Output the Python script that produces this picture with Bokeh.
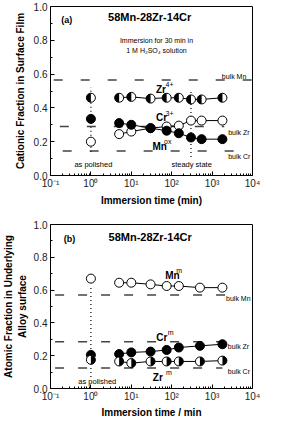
import math
from bokeh.plotting import figure
from bokeh.layouts import column
from bokeh.models import FixedTicker, PrintfTickFormatter, CustomJSTickFormatter
from bokeh.core.properties import value
from bokeh.embed import file_html
from bokeh.resources import INLINE

FONT = "Liberation Sans"

# ---------------- data: panel (a) surface film ----------------
time_a = [5, 10, 30, 75, 150, 300, 550, 1800]
zr4_a = [0.46, 0.465, 0.455, 0.46, 0.46, 0.45, 0.45, 0.46]
cr3_a = [0.245, 0.26, 0.28, 0.29, 0.295, 0.325, 0.325, 0.325]
mnox_a = [0.31, 0.30, 0.28, 0.265, 0.25, 0.225, 0.215, 0.215]
polished_t = [1]
polished_zr4_a = [0.46]
polished_mnox_a = [0.335]
polished_cr3_a = [0.20]
bulk_a = {"Mn": 0.565, "Zr": 0.29, "Cr": 0.145}

# ---------------- data: panel (b) underlying alloy ----------------
time_b = [5, 10, 30, 75, 150, 500, 1800]
mn_b = [0.645, 0.645, 0.635, 0.625, 0.625, 0.615, 0.615]
cr_b = [0.21, 0.22, 0.225, 0.235, 0.25, 0.26, 0.27]
zr_b = [0.165, 0.155, 0.165, 0.165, 0.165, 0.165, 0.17]
polished_mn_b = [0.67]
polished_mn_b_err = [0.025]
polished_cr_b = [0.205]
polished_zr_b = [0.175]
bulk_b = {"Mn": 0.57, "Zr": 0.285, "Cr": 0.125}

xticks = [0.1, 1, 10, 100, 1000, 10000]
yticks = [0.0, 0.2, 0.4, 0.6, 0.8, 1.0]

SUP_JS = """
const sup = {"-": "\\u207b", "0": "\\u2070", "1": "\\u00b9", "2": "\\u00b2",
             "3": "\\u00b3", "4": "\\u2074", "5": "\\u2075"};
const e = Math.round(Math.log10(tick)).toString();
return "10" + e.split("").map(c => sup[c]).join("");
"""


def base_fig(width, height, bl, br, bt, bb):
    p = figure(width=width, height=height, x_axis_type="log",
               x_range=(0.1, 10000), y_range=(0, 1),
               output_backend="svg", toolbar_location=None,
               min_border_left=bl, min_border_right=br,
               min_border_top=bt, min_border_bottom=bb)
    p.grid.visible = False
    p.outline_line_color = "black"
    p.outline_line_width = 1
    p.background_fill_color = "white"
    p.border_fill_color = "white"
    minors = [m * d for d in xticks[:-1] for m in range(2, 10)]
    p.xaxis.ticker = FixedTicker(ticks=xticks, minor_ticks=minors)
    p.xaxis.formatter = CustomJSTickFormatter(code=SUP_JS)
    p.yaxis.ticker = FixedTicker(ticks=yticks, minor_ticks=[0.1, 0.3, 0.5, 0.7, 0.9])
    p.yaxis.formatter = PrintfTickFormatter(format="%.1f")
    for ax in (p.xaxis[0], p.yaxis[0]):
        ax.major_tick_in = 4
        ax.major_tick_out = 0
        ax.minor_tick_in = 2
        ax.minor_tick_out = 0
        ax.axis_line_color = "black"
        ax.major_tick_line_color = "black"
        ax.minor_tick_line_color = "black"
        ax.major_label_text_font = FONT
        ax.major_label_text_font_size = "10px"
        ax.major_label_text_color = "#222222"
        ax.axis_label_text_font = FONT
        ax.axis_label_text_font_style = "bold"
        ax.axis_label_text_font_size = "10px"
        ax.axis_label_text_color = "black"
    p.xaxis.major_label_standoff = 2
    p.xaxis.axis_label_standoff = 3
    p.yaxis.major_label_standoff = 3
    p.yaxis.axis_label_standoff = 5
    return p


def txt(p, x, y, s, size, bold=False, align="left"):
    p.text(x=[x], y=[y], text=[s], text_font=value(FONT),
           text_font_size=size, text_font_style="bold" if bold else "normal",
           text_align=align, text_baseline="middle", text_color="black")


def half(p, xs, ys, left_black=True):
    p.scatter(xs, ys, size=9, marker="circle", fill_color="white",
              line_color="black", line_width=1)
    if left_black:
        sa, ea = math.pi / 2, 3 * math.pi / 2
    else:
        sa, ea = -math.pi / 2, math.pi / 2
    p.wedge(x=xs, y=ys, radius=4.5, radius_units="screen",
            start_angle=sa, end_angle=ea, fill_color="black", line_color=None)


def filled(p, xs, ys):
    p.scatter(xs, ys, size=9, marker="circle", fill_color="black",
              line_color="black", line_width=1)


def opened(p, xs, ys):
    p.scatter(xs, ys, size=9, marker="circle", fill_color="white",
              line_color="black", line_width=1)


# ================= panel (a) =================
p1 = base_fig(267, 208, 41, 15, 6, 32)
p1.xaxis.axis_label = "Immersion time (min)"
p1.yaxis.axis_label = "Cationic Fraction in Surface Film"

# bulk composition dashed lines
p1.line([0.12, 10000], [bulk_a["Mn"]] * 2, line_color="#444444", line_width=1.5, line_dash="9 18")
p1.line([0.17, 2000], [bulk_a["Zr"]] * 2, line_color="#444444", line_width=1.5, line_dash="9 18")
p1.line([0.2, 6000], [bulk_a["Cr"]] * 2, line_color="#444444", line_width=1.5, line_dash="9 18")
# dotted guides
p1.line([1, 1], [0.14, 0.52], line_color="black", line_width=1.2, line_dash="1 3")
p1.line([300, 300], [0.11, 0.50], line_color="black", line_width=1.2, line_dash="1 3")

p1.line(time_a, zr4_a, line_color="black", line_width=1)
p1.line(time_a, cr3_a, line_color="black", line_width=1)
p1.line(time_a, mnox_a, line_color="black", line_width=1)
opened(p1, time_a, cr3_a)
filled(p1, time_a, mnox_a)
half(p1, time_a, zr4_a, True)
half(p1, polished_t, polished_zr4_a, True)
filled(p1, polished_t, polished_mnox_a)
opened(p1, polished_t, polished_cr3_a)

txt(p1, 0.185, 0.921, "(a)", "9px", bold=True)
txt(p1, 28.5, 0.938, "58Mn-28Zr-14Cr", "11px", bold=True, align="center")
txt(p1, 42, 0.797, "Immersion for 30 min in", "7px", align="center")
txt(p1, 42, 0.740, "1 M H\u2082SO\u2084 solution", "7px", align="center")
txt(p1, 1742, 0.588, "bulk Mn", "7px")
txt(p1, 2496, 0.256, "bulk Zr", "7px")
txt(p1, 2496, 0.115, "bulk Cr", "7px")
txt(p1, 1.15, 0.068, "as polished", "7.5px", align="center")
txt(p1, 311, 0.068, "steady state", "7.5px", align="center")
txt(p1, 40.9, 0.508, "Zr", "10px", bold=True)
txt(p1, 70.2, 0.537, "4+", "7px")
txt(p1, 40.9, 0.341, "Cr", "10px", bold=True)
txt(p1, 70.2, 0.366, "3+", "7px")
txt(p1, 33.3, 0.172, "Mn", "10px", bold=True)
txt(p1, 64.9, 0.199, "ox", "7px")

# ================= panel (b) =================
p2 = base_fig(267, 212, 44, 7, 16, 27)
p2.xaxis.axis_label = "Immersion time / min"
p2.yaxis.axis_label = "Atomic Fraction in Underlying\nAlloy surface"
p2.yaxis.axis_label_standoff = 3
p2.yaxis.major_label_standoff = 3
p2.xaxis.axis_label_standoff = 2
p2.xaxis.major_label_standoff = 2

p2.line([0.13, 2200], [bulk_b["Mn"]] * 2, line_color="#444444", line_width=1.5, line_dash="9 14")
p2.line([0.13, 2200], [bulk_b["Zr"]] * 2, line_color="#444444", line_width=1.5, line_dash="9 14")
p2.line([0.13, 1800], [bulk_b["Cr"]] * 2, line_color="#444444", line_width=1.5, line_dash="9 14")
p2.line([1, 1], [0.07, 0.62], line_color="black", line_width=1.2, line_dash="1 3")

p2.line(time_b, mn_b, line_color="black", line_width=1)
p2.line(time_b, cr_b, line_color="black", line_width=1)
p2.line(time_b, zr_b, line_color="black", line_width=1)
opened(p2, time_b, mn_b)
filled(p2, time_b, cr_b)
half(p2, time_b, zr_b, False)
p2.segment(x0=polished_t, y0=[polished_mn_b[0] - polished_mn_b_err[0]],
           x1=polished_t, y1=[polished_mn_b[0] + polished_mn_b_err[0]],
           line_color="black", line_width=1)
opened(p2, polished_t, polished_mn_b)
filled(p2, polished_t, polished_cr_b)
half(p2, polished_t, polished_zr_b, False)

txt(p2, 0.2126, 0.913, "(b)", "9px", bold=True)
txt(p2, 29.3, 0.922, "58Mn-28Zr-14Cr", "11px", bold=True, align="center")
txt(p2, 68.9, 0.689, "Mn", "10px", bold=True)
txt(p2, 129, 0.718, "m", "7px")
txt(p2, 2213, 0.551, "bulk Mn", "7px")
txt(p2, 41.7, 0.311, "Cr", "10px", bold=True)
txt(p2, 80.2, 0.339, "m", "7px")
txt(p2, 2448, 0.257, "bulk Zr", "7px")
txt(p2, 2448, 0.102, "bulk Cr", "7px")
txt(p2, 34.1, 0.068, "Zr", "10px", bold=True)
txt(p2, 72.4, 0.097, "m", "7px")
txt(p2, 1.44, 0.045, "as polished", "7.5px", align="center")

layout = column(p1, p2, spacing=0)
open("out.html", "w").write(file_html(layout, INLINE))
